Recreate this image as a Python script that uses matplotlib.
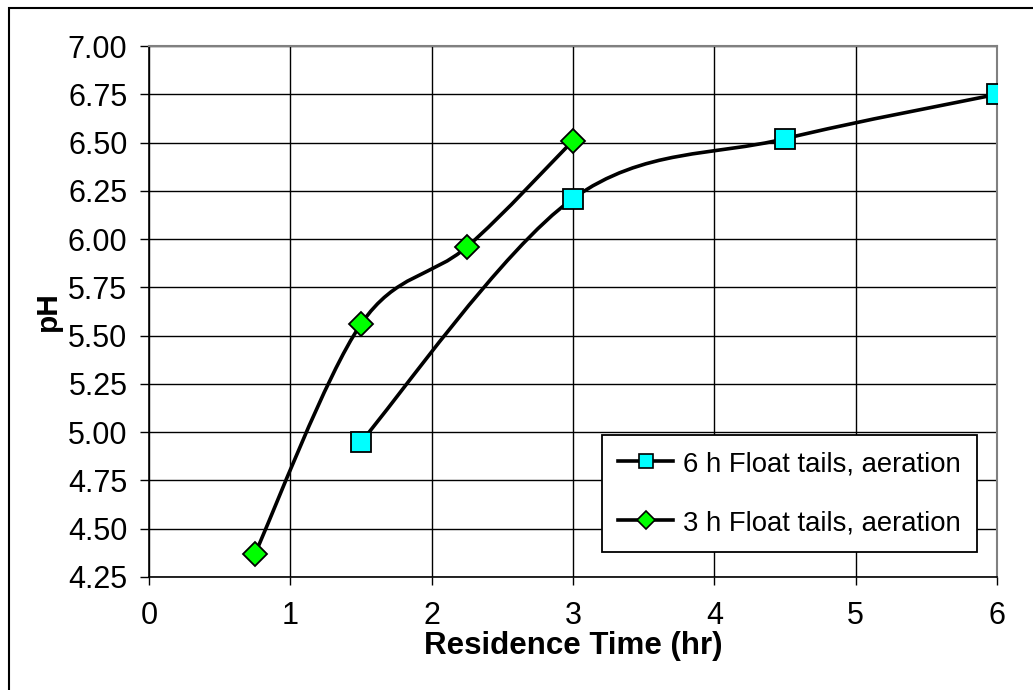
import matplotlib.pyplot as plt
from matplotlib.path import Path
from matplotlib.patches import PathPatch, Rectangle
from matplotlib.lines import Line2D

plt.rcParams['font.family'] = ['Liberation Sans', 'DejaVu Sans']

# --- data ---
time_6h = [1.5, 3.0, 4.5, 6.0]
ph_6h = [4.95, 6.21, 6.52, 6.75]

time_3h = [0.75, 1.5, 2.25, 3.0]
ph_3h = [4.37, 5.56, 5.96, 6.51]

x_ticks = [0, 1, 2, 3, 4, 5, 6]
y_ticks = [4.25, 4.50, 4.75, 5.00, 5.25, 5.50, 5.75, 6.00, 6.25, 6.50, 6.75, 7.00]


def smooth_path(xs, ys):
    # Excel style smoothed line: cubic bezier through every point
    pts = list(zip(xs, ys))
    n = len(pts)
    verts = [pts[0]]
    codes = [Path.MOVETO]
    for i in range(n - 1):
        p0 = pts[max(i - 1, 0)]
        p1 = pts[i]
        p2 = pts[i + 1]
        p3 = pts[min(i + 2, n - 1)]
        c1 = (p1[0] + (p2[0] - p0[0]) / 6, p1[1] + (p2[1] - p0[1]) / 6)
        c2 = (p2[0] - (p3[0] - p1[0]) / 6, p2[1] - (p3[1] - p1[1]) / 6)
        verts += [c1, c2, p2]
        codes += [Path.CURVE4] * 3
    return Path(verts, codes)


fig = plt.figure(figsize=(10.33, 6.9), dpi=100)
ax = fig.add_axes([0.1442, 0.1638, 0.821, 0.7695])

ax.add_patch(PathPatch(smooth_path(time_6h, ph_6h), fill=False, color='black', lw=2.6, zorder=3))
ax.add_patch(PathPatch(smooth_path(time_3h, ph_3h), fill=False, color='black', lw=2.6, zorder=3))

ax.plot(time_6h, ph_6h, linestyle='none', marker='s', markersize=14,
        markerfacecolor='#00ffff', markeredgecolor='black', markeredgewidth=1.3, zorder=4)
ax.plot(time_3h, ph_3h, linestyle='none', marker='D', markersize=12,
        markerfacecolor='#00ff00', markeredgecolor='black', markeredgewidth=1.3, zorder=4)

ax.set_xlim(0, 6)
ax.set_ylim(4.25, 7.0)
ax.set_xticks(x_ticks)
ax.set_yticks(y_ticks)
ax.set_yticklabels([f"{v:.2f}" for v in y_ticks])
ax.grid(True, color='black', lw=1.0)
ax.set_axisbelow(True)

ax.tick_params(axis='y', direction='out', length=6.5, width=1.0, pad=9, labelsize=22)
ax.tick_params(axis='x', direction='out', length=6, width=1.0, pad=11, labelsize=22)

for side in ['left', 'bottom']:
    ax.spines[side].set_color('black')
    ax.spines[side].set_linewidth(1.2)
for side in ['top', 'right']:
    ax.spines[side].set_color('#808080')
    ax.spines[side].set_linewidth(1.5)

ax.set_xlabel('Residence Time (hr)', fontsize=22.5, fontweight='bold', labelpad=0)
ax.set_ylabel('pH', fontsize=21.5, fontweight='bold', labelpad=4)

handles = [
    Line2D([], [], color='black', lw=2.6, marker='s', markersize=10,
           markerfacecolor='#00ffff', markeredgecolor='black', markeredgewidth=1.2),
    Line2D([], [], color='black', lw=2.6, marker='D', markersize=9,
           markerfacecolor='#00ff00', markeredgecolor='black', markeredgewidth=1.2),
]
leg = ax.legend(handles, ['6 h Float tails, aeration', '3 h Float tails, aeration'],
                loc='lower right', bbox_to_anchor=(0.976, 0.047), borderaxespad=0,
                fontsize=19.8, fancybox=False, framealpha=1, edgecolor='black',
                handlelength=2.0, handletextpad=0.35, labelspacing=1.2, borderpad=0.58)
leg.get_frame().set_linewidth(1.3)
leg.set_zorder(5)

# outer chart border
fig.patches.append(Rectangle((0.0087, -0.1), 1.2, 1.088, transform=fig.transFigure,
                             fill=False, edgecolor='black', lw=1.5))

fig.savefig('out.png', dpi=100)
